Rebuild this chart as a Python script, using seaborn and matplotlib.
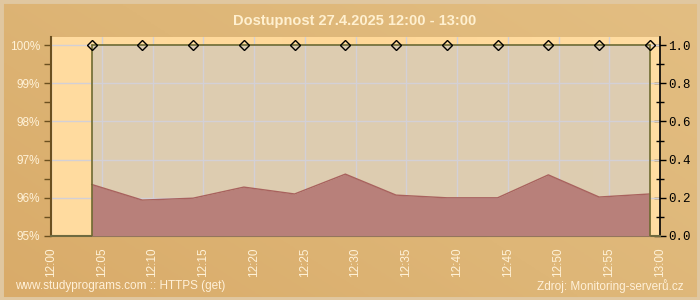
import numpy as np
import pandas as pd
import matplotlib
matplotlib.use("Agg")
import matplotlib.pyplot as plt
import seaborn as sns
from matplotlib.colors import LinearSegmentedColormap

# ---- data ----
minutes = [4, 9, 14, 19, 24, 29, 34, 39, 44, 49, 54, 59]
avail_pct = [96.35, 95.94, 95.99, 96.28, 96.1, 96.62, 96.07, 96.0, 96.0, 96.6, 96.02, 96.1]
avail_ratio = [1.0] * 12
x_ticks = [0, 5, 10, 15, 20, 25, 30, 35, 40, 45, 50, 55, 60]
x_labels = ["12:00", "12:05", "12:10", "12:15", "12:20", "12:25", "12:30",
            "12:35", "12:40", "12:45", "12:50", "12:55", "13:00"]
y_ticks = [95, 96, 97, 98, 99, 100]
y_labels = ["95%", "96%", "97%", "98%", "99%", "100%"]
r_ticks = [0.0, 0.2, 0.4, 0.6, 0.8, 1.0]
title = "Dostupnost 27.4.2025 12:00 - 13:00"
footer_left = "www.studyprograms.com :: HTTPS (get)"
footer_right = "Zdroj: Monitoring-serverů.cz"

df = pd.DataFrame({"minute": minutes, "pct": avail_pct, "ratio": avail_ratio})

sns.set_theme(style="white")
plt.rcParams["font.family"] = ["Liberation Sans", "DejaVu Sans"]

W, H = 700, 300
fig = plt.figure(figsize=(7, 3), dpi=100)

# background gradient
bg = fig.add_axes([0, 0, 1, 1], zorder=-10)
cmap_bg = LinearSegmentedColormap.from_list("bg", ["#D9AB69", "#DEB677", "#E3BE82"])
gx, gy = np.meshgrid(np.linspace(0, 1, 200), np.linspace(0, 1, 100))
bg.imshow(0.6 * gx + 0.4 * gy, cmap=cmap_bg, aspect="auto", extent=[0, 1, 0, 1], origin="lower")
bg.add_patch(plt.Rectangle((0, 0), 1, 1, fill=False, edgecolor="#E0C7A0", lw=5, transform=bg.transAxes))
bg.set_axis_off()

# main axes: left 51, right 660, top 37, bottom 236 (pixels)
L, R, T, B = 51, 660, 37, 236
ax = fig.add_axes([L / W, (H - B) / H, (R - L) / W, (B - T) / H])
ppp = (236 - 45) / 5.0
ytop = 100 + (45 - T) / ppp

# plot area background
pa = np.linspace(0, 1, 100)[None, :]
cmap_pa = LinearSegmentedColormap.from_list("pa", ["#FFDCA0", "#FFD898", "#FFDDA2"])
ax.imshow(pa, cmap=cmap_pa, aspect="auto", extent=[0, 60, 95, 101], zorder=0)
ax.set_xlim(0, 60)
ax.set_ylim(95, ytop)

# right axis (ratio)
ax2 = ax.twinx()
ax2.set_ylim(0, (ytop - 95) / 5.0)
ax2.set_xlim(0, 60)
ax2.fill_between(df["minute"], 0, df["ratio"], color="#DACBB3", alpha=0.9, lw=0, zorder=2)

# grid (above grey fill, below red fill)
for xt in x_ticks:
    ax2.axvline(xt, color="#D3D0D6", lw=1, zorder=2.5)
for yt in y_ticks:
    ax2.axhline((yt - 95) / 5.0, color="#D3D0D6", lw=1, zorder=2.5)

# red availability area
ratio_from_pct = [(p - 95) / 5.0 for p in df["pct"]]
ax2.fill_between(df["minute"], 0, ratio_from_pct, color="#B8807A", lw=0, zorder=3)
ax2.plot(df["minute"], ratio_from_pct, color="#A8625E", lw=1, zorder=3)

ax2.plot([minutes[0], minutes[0]], [0, avail_ratio[0]], color="#6E6A30", lw=1.2, zorder=4)
ax2.plot([minutes[-1], minutes[-1]], [0, avail_ratio[-1]], color="#6E6A30", lw=1.2, zorder=4)
sns.lineplot(data=df, x="minute", y="ratio", ax=ax2, color="#6E6A30", lw=1.2,
             marker="D", markersize=5.5, markerfacecolor="none", markeredgecolor="black",
             markeredgewidth=1, zorder=6)

ax2.set_xlabel("")
ax2.set_ylabel("")
ax2.set_yticks(r_ticks)
ax2.set_yticklabels([f"{v:.1f}" for v in r_ticks], family=["Liberation Mono", "DejaVu Sans Mono"],
                    fontsize=9, color="black")
ax2.set_yticks(np.arange(0.1, 1.0, 0.2), minor=True)
ax2.tick_params(axis="y", which="major", direction="inout", length=8, width=1, color="black", pad=2)
ax2.tick_params(axis="y", which="minor", direction="inout", length=6, width=1, color="black")

# left axis ticks
ax.set_yticks(y_ticks)
ax.set_yticklabels(y_labels, fontsize=8.5, color="#FFF2D8")
ax.set_yticks(np.arange(95.5, 100, 1.0), minor=True)
ax.tick_params(axis="y", which="major", direction="out", length=5, width=1, color="#6B5020", pad=3)
ax.tick_params(axis="y", which="minor", direction="out", length=5, width=1, color="#6B5020")

ax.set_xticks(x_ticks)
ax.set_xticklabels(x_labels, rotation=90, fontsize=8.5, color="#FFF2D8")
ax.set_xticks(np.arange(0, 61, 1), minor=True)
ax2.set_xticks(x_ticks)
ax.tick_params(axis="x", which="major", direction="in", length=5, width=1, color="#6E6A40", pad=8)
ax.tick_params(axis="x", which="minor", direction="in", length=3, width=1, color="#6E6A40")
ax2.tick_params(axis="x", which="both", length=0, labelbottom=False)

for a in (ax, ax2):
    for s in a.spines.values():
        s.set_visible(False)
ax2.spines["left"].set_visible(True)
ax2.spines["left"].set_color("#6B5020")
ax2.spines["left"].set_linewidth(1.5)
ax2.spines["bottom"].set_visible(True)
ax2.spines["bottom"].set_color("#6E6A40")
ax2.spines["bottom"].set_linewidth(1.5)
ax2.spines["right"].set_visible(True)
ax2.spines["right"].set_color("black")
ax2.spines["right"].set_linewidth(1.2)

# x ticks drawn on ax2 so they appear over the red fill
ax2.set_xticks(np.arange(0, 61, 1), minor=True)
ax2.tick_params(axis="x", which="major", direction="in", length=5, width=1, color="#6E6A40")
ax2.tick_params(axis="x", which="minor", direction="in", length=3, width=1, color="#6E6A40")

fig.text(355 / W, 1 - 21 / H, title, ha="center", va="center", fontsize=10.5,
         fontweight="bold", color="#FFF0D0")
fig.text(15 / W, 1 - 286 / H, footer_left, ha="left", va="center", fontsize=8.5, color="#FFF0D8")
fig.text(684 / W, 1 - 286 / H, footer_right, ha="right", va="center", fontsize=8.5, color="#FFF0D8")

fig.savefig("out.png", dpi=100)
